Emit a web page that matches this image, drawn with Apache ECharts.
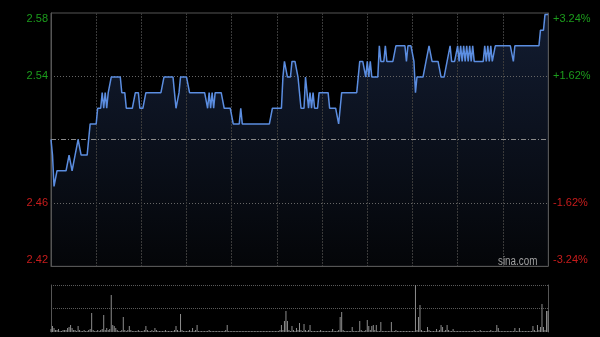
<!DOCTYPE html>
<html><head><meta charset="utf-8">
<script src="https://cdn.jsdelivr.net/npm/echarts@6/dist/echarts.min.js"></script>
<style>html,body{margin:0;padding:0;background:#000;}#c{width:600px;height:337px;}</style>
</head><body><div id="c"></div>
<script>
const prevClose = 2.50;
const priceLabels = ['2.42', '2.46', '', '2.54', '2.58'];
const pctLabels = ['-3.24%', '-1.62%', '', '+1.62%', '+3.24%'];
const watermark = 'sina.com';

const price = [
2.50,2.49,2.47,2.47,2.48,2.48,2.48,2.48,2.48,2.48,
2.48,2.48,2.49,2.49,2.48,2.48,2.49,2.49,2.50,2.50,
2.49,2.49,2.49,2.49,2.49,2.49,2.51,2.51,2.51,2.51,
2.51,2.52,2.52,2.52,2.53,2.52,2.53,2.52,2.53,2.53,
2.54,2.54,2.54,2.54,2.54,2.54,2.54,2.53,2.53,2.53,
2.52,2.52,2.52,2.52,2.52,2.52,2.53,2.53,2.53,2.52,
2.52,2.52,2.52,2.53,2.53,2.53,2.53,2.53,2.53,2.53,
2.53,2.53,2.53,2.53,2.53,2.54,2.54,2.54,2.54,2.54,
2.54,2.54,2.53,2.52,2.52,2.53,2.54,2.54,2.54,2.54,
2.54,2.54,2.53,2.53,2.53,2.53,2.53,2.53,2.53,2.53,
2.53,2.53,2.53,2.53,2.52,2.53,2.52,2.53,2.52,2.53,
2.53,2.53,2.53,2.53,2.53,2.52,2.52,2.52,2.52,2.52,
2.52,2.51,2.51,2.51,2.51,2.51,2.52,2.51,2.51,2.51,
2.51,2.51,2.51,2.51,2.51,2.51,2.51,2.51,2.51,2.51,
2.51,2.51,2.51,2.51,2.51,2.51,2.51,2.52,2.52,2.52,
2.52,2.52,2.52,2.52,2.54,2.55,2.55,2.54,2.54,2.54,
2.55,2.55,2.55,2.55,2.54,2.53,2.52,2.52,2.52,2.54,
2.53,2.52,2.53,2.52,2.53,2.52,2.52,2.52,2.53,2.53,
2.53,2.53,2.53,2.53,2.53,2.52,2.52,2.52,2.52,2.52,
2.52,2.51,2.52,2.53,2.53,2.53,2.53,2.53,2.53,2.53,
2.53,2.53,2.53,2.53,2.53,2.55,2.55,2.55,2.55,2.54,
2.55,2.54,2.55,2.54,2.54,2.54,2.54,2.54,2.56,2.55,
2.55,2.55,2.56,2.55,2.55,2.55,2.55,2.55,2.55,2.56,
2.56,2.56,2.56,2.56,2.56,2.56,2.55,2.56,2.56,2.56,
2.56,2.55,2.53,2.54,2.54,2.54,2.54,2.54,2.54,2.55,
2.55,2.56,2.56,2.55,2.55,2.55,2.55,2.55,2.55,2.54,
2.54,2.54,2.54,2.55,2.55,2.56,2.55,2.55,2.55,2.55,
2.56,2.55,2.56,2.55,2.56,2.55,2.56,2.55,2.56,2.55,
2.56,2.55,2.55,2.55,2.55,2.55,2.55,2.55,2.56,2.55,
2.56,2.55,2.56,2.55,2.55,2.56,2.56,2.56,2.56,2.56,
2.56,2.56,2.56,2.56,2.56,2.56,2.56,2.55,2.56,2.56,
2.56,2.56,2.56,2.56,2.56,2.56,2.56,2.56,2.56,2.56,
2.56,2.56,2.56,2.56,2.56,2.57,2.57,2.57,2.58,2.58,
2.58
];

const volume = [
3,6,4,2,2,3,1,1,2,2,
2,4,5,7,4,2,2,1,6,2,
1,1,2,1,1,2,3,19,2,1,
1,2,1,2,3,17,2,4,2,3,
37,7,6,4,2,1,1,2,15,2,
1,2,6,2,1,1,1,1,2,1,
1,1,2,6,2,1,1,2,1,4,
2,1,1,1,1,1,2,1,1,1,
1,1,2,6,2,1,18,2,1,1,
1,1,2,1,4,1,2,7,1,1,
1,1,1,1,1,2,1,1,1,1,
1,1,1,1,1,1,2,7,1,1,
1,1,1,1,1,1,1,1,1,1,
1,1,1,1,1,1,1,1,1,1,
1,1,1,1,1,1,1,1,1,1,
1,1,2,7,2,11,21,11,2,1,
6,2,1,4,2,9,2,1,8,2,
1,2,7,1,1,1,1,1,1,2,
1,1,1,1,1,1,1,3,1,1,
1,2,15,20,2,1,1,1,1,1,
5,1,1,1,1,11,2,1,1,2,
12,6,2,6,7,2,7,1,1,10,
1,1,1,1,1,1,10,1,1,2,
1,1,1,1,1,1,1,1,1,1,
1,1,47,2,15,27,2,1,1,1,
5,2,1,1,1,1,3,1,2,7,
5,1,2,7,2,1,1,3,1,1,
1,1,1,1,1,1,1,1,1,1,
1,2,1,1,1,2,1,1,1,1,
1,1,2,1,1,1,7,4,1,1,
1,1,1,1,1,1,1,1,4,1,
1,4,1,1,1,1,1,1,1,1,
6,2,1,7,2,5,28,5,2,21,
21
];

function hhmm(m) {
  const h = Math.floor(m / 60), mm = m % 60;
  return (h < 10 ? '0' : '') + h + ':' + (mm < 10 ? '0' : '') + mm;
}
const times = [];
for (let m = 9 * 60 + 30; m <= 12 * 60; m++) times.push(hhmm(m));
for (let m = 13 * 60 + 1; m <= 16 * 60; m++) times.push(hhmm(m));

const GREEN = '#1c9c1c', RED = '#c81c1c';
const FONT = "'Liberation Sans',Arial,sans-serif";
const FS = 11;
const PMIN = -3.24, PMAX = 3.24, PSTEP = 1.62;
const pLow = +(prevClose * (1 + PMIN / 100)).toFixed(4);
const pHigh = +(prevClose * (1 + PMAX / 100)).toFixed(4);

function tickIdx(v) { return Math.round((v - PMIN) / PSTEP); }
function richFmt(labels) {
  return function (v) {
    const k = tickIdx(v);
    const s = labels[k];
    if (!s) return '';
    if (k === 4) return '{gt|' + s + '}';
    if (k === 0) return '{rb|' + s + '}';
    return (k > 2 ? '{g|' : '{r|') + s + '}';
  };
}
const rich = {
  g: { color: GREEN, fontSize: FS, fontFamily: FONT },
  r: { color: RED, fontSize: FS, fontFamily: FONT },
  gt: { color: GREEN, fontSize: FS, fontFamily: FONT, padding: [12, 0, 0, 0] },
  rb: { color: RED, fontSize: FS, fontFamily: FONT, padding: [0, 0, 12, 0] }
};

const chart = echarts.init(document.getElementById('c'), null, { renderer: 'canvas' });
chart.setOption({
  backgroundColor: '#000',
  animation: false,
  grid: [
    { left: 51, top: 13, width: 497, height: 253, show: true, borderColor: '#555', borderWidth: 1, backgroundColor: 'transparent' },
    { left: 51, top: 285, width: 497, height: 47, show: false }
  ],
  xAxis: [
    {
      gridIndex: 0, type: 'category', data: times, boundaryGap: false, z: 3,
      axisLine: { show: true, onZero: false, lineStyle: { color: '#555', width: 1 } },
      axisTick: { show: false }, axisLabel: { show: false },
      splitLine: {
        show: true,
        interval: function (i) { return i % 30 === 0 && i > 0 && i < times.length - 1; },
        lineStyle: { color: '#3a3a3a', type: [2, 1], width: 1 }
      }
    },
    {
      gridIndex: 1, type: 'category', data: times, boundaryGap: false,
      axisLine: { show: false }, axisTick: { show: false }, axisLabel: { show: false },
      splitLine: { show: false }
    }
  ],
  yAxis: [
    { gridIndex: 0, type: 'value', min: pLow, max: pHigh, show: false, position: 'left', splitLine: { show: false } },
    {
      gridIndex: 0, type: 'value', position: 'left', min: PMIN, max: PMAX, interval: PSTEP, z: 3,
      axisLine: { show: true, onZero: false, lineStyle: { color: '#555' } },
      axisTick: { show: false },
      axisLabel: { margin: 3, formatter: richFmt(priceLabels), rich: rich },
      splitLine: { show: false }
    },
    {
      gridIndex: 0, type: 'value', position: 'right', min: PMIN, max: PMAX, interval: PSTEP, z: 3,
      axisLine: { show: true, onZero: false, lineStyle: { color: '#555' } },
      axisTick: { show: false },
      axisLabel: { margin: 5, formatter: richFmt(pctLabels), rich: rich },
      splitLine: { show: true, lineStyle: { color: ['transparent', '#666', 'transparent', '#666', 'transparent'], type: [1, 2], width: 1 } }
    },
    {
      gridIndex: 1, type: 'value', position: 'left', min: 0, max: 47, interval: 23.5,
      axisLine: { show: true, onZero: false, lineStyle: { color: '#555' } },
      axisTick: { show: false }, axisLabel: { show: false },
      splitLine: { show: true, showMinLine: false, lineStyle: { color: '#5a5a5a', type: [1, 1], width: 1 } }
    },
    {
      gridIndex: 1, type: 'value', position: 'right', min: 0, max: 47,
      axisLine: { show: true, onZero: false, lineStyle: { color: '#555' } },
      axisTick: { show: false }, axisLabel: { show: false }, splitLine: { show: false }
    }
  ],
  graphic: [{
    type: 'text', x: 498, y: 256, scaleX: 0.82, z: 10, silent: true,
    style: { text: watermark, fill: '#a0a0a0', font: "12px 'Liberation Sans',Arial,sans-serif", textAlign: 'left', textVerticalAlign: 'top' }
  }],
  series: [
    {
      name: 'area', type: 'line', xAxisIndex: 0, yAxisIndex: 0, data: price, z: 2,
      showSymbol: false, silent: true,
      lineStyle: { width: 0, opacity: 0 },
      areaStyle: {
        origin: 'start',
        color: new echarts.graphic.LinearGradient(0, 0, 0, 1, [
          { offset: 0, color: '#1a2846' }, { offset: 1, color: '#06080c' }
        ])
      },
      markLine: {
        silent: true, symbol: 'none', label: { show: false },
        lineStyle: { color: '#8a8a8a', type: [5, 2, 1, 2], width: 1 },
        data: [{ yAxis: prevClose }]
      }
    },
    {
      name: 'price', type: 'line', xAxisIndex: 0, yAxisIndex: 0, data: price, z: 5,
      showSymbol: false, silent: true,
      lineStyle: { color: '#5b8de0', width: 1.5 }
    },
    {
      name: 'vol', type: 'bar', xAxisIndex: 1, yAxisIndex: 3, data: volume,
      barWidth: 1, silent: true, itemStyle: { color: '#8c8c8c' }
    }
  ]
});
</script>
</body></html>
